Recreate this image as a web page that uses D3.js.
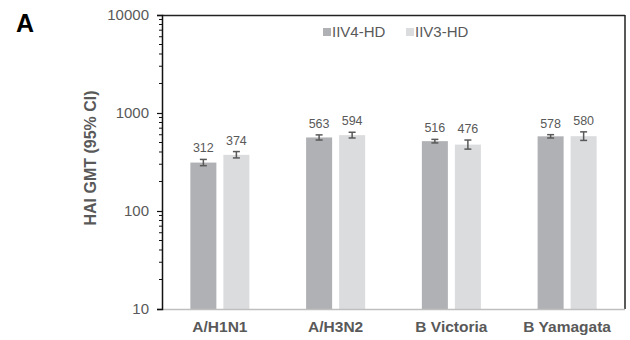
<!DOCTYPE html>
<html>
<head>
<meta charset="utf-8">
<script src="https://cdnjs.cloudflare.com/ajax/libs/d3/7.8.5/d3.min.js"></script>
<style>
  body { margin: 0; background: #fff; }
  svg { font-family: "Liberation Sans", Arial, sans-serif; }
</style>
</head>
<body>
<script>
// data
var strains = ["A/H1N1", "A/H3N2", "B Victoria", "B Yamagata"];
var series = ["IIV4-HD", "IIV3-HD"];
var gmtIIV4 = [312, 563, 516, 578];
var gmtIIV3 = [374, 594, 476, 580];
var lowIIV4 = [290, 530, 495, 556];
var highIIV4 = [336, 598, 538, 601];
var lowIIV3 = [348, 556, 428, 525];
var highIIV3 = [404, 636, 530, 642];
var yTicks = [10, 100, 1000, 10000];

var width = 630, height = 340;
var plotLeft = 162, plotRight = 625, plotTop = 15, plotBottom = 309;
var grey = "#595959";
var colors = ["#b0b1b4", "#dbdcde"];

var svg = d3.select("body").append("svg")
    .attr("width", width)
    .attr("height", height);

var x0 = d3.scaleBand()
    .domain(strains)
    .range([plotLeft, plotRight])
    .paddingInner(0.49)
    .paddingOuter(0.245);

var x1 = d3.scaleBand()
    .domain(series)
    .range([0, x0.bandwidth()])
    .paddingInner(0.212);

var y = d3.scaleLog()
    .domain([10, 10000])
    .range([plotBottom, plotTop]);

// rows for the bars
var rows = [];
strains.forEach(function(s, i) {
    rows.push({strain: s, key: series[0], v: gmtIIV4[i], lo: lowIIV4[i], hi: highIIV4[i]});
    rows.push({strain: s, key: series[1], v: gmtIIV3[i], lo: lowIIV3[i], hi: highIIV3[i]});
});

// frame: top and right dark, bottom light
svg.append("line")
    .attr("x1", plotLeft).attr("x2", plotRight)
    .attr("y1", plotTop + 0.5).attr("y2", plotTop + 0.5)
    .attr("stroke", "#222").attr("stroke-width", 1.5);
svg.append("line")
    .attr("x1", plotRight).attr("x2", plotRight)
    .attr("y1", plotTop).attr("y2", plotBottom)
    .attr("stroke", "#222").attr("stroke-width", 1.5);

// bars
svg.append("g").selectAll("rect")
    .data(rows)
    .enter()
    .append("rect")
    .attr("x", function(d) { return x0(d.strain) + x1(d.key); })
    .attr("y", function(d) { return y(d.v); })
    .attr("width", x1.bandwidth())
    .attr("height", function(d) { return plotBottom - y(d.v); })
    .attr("fill", function(d) { return colors[series.indexOf(d.key)]; });

// bottom baseline
svg.append("line")
    .attr("x1", plotLeft).attr("x2", plotRight)
    .attr("y1", plotBottom + 0.5).attr("y2", plotBottom + 0.5)
    .attr("stroke", "#bfbfbf").attr("stroke-width", 1.5);

// error bars
var err = svg.append("g")
    .attr("stroke", grey)
    .attr("stroke-width", 1.5);

rows.forEach(function(d) {
    var cx = x0(d.strain) + x1(d.key) + x1.bandwidth() / 2;
    err.append("line")
        .attr("x1", cx).attr("x2", cx)
        .attr("y1", y(d.lo)).attr("y2", y(d.hi));
    err.append("line")
        .attr("x1", cx - 3.5).attr("x2", cx + 3.5)
        .attr("y1", y(d.lo)).attr("y2", y(d.lo));
    err.append("line")
        .attr("x1", cx - 3.5).attr("x2", cx + 3.5)
        .attr("y1", y(d.hi)).attr("y2", y(d.hi));
});

// value labels
svg.append("g").selectAll("text")
    .data(rows)
    .enter()
    .append("text")
    .attr("x", function(d) { return x0(d.strain) + x1(d.key) + x1.bandwidth() / 2; })
    .attr("y", function(d) { return y(d.hi) - 7; })
    .attr("text-anchor", "middle")
    .attr("fill", grey)
    .style("font-size", "12.5px")
    .text(function(d) { return d.v; });

// y axis
var yAxis = d3.axisLeft(y)
    .tickValues(yTicks)
    .tickFormat(d3.format("d"))
    .tickSize(5)
    .tickPadding(8);

var gy = svg.append("g")
    .attr("transform", "translate(" + plotLeft + ",0)")
    .call(yAxis);
gy.select(".domain").attr("stroke", "#111").attr("stroke-width", 1.5);
gy.selectAll(".tick line").attr("stroke", "#111").attr("stroke-width", 1.2);
gy.selectAll(".tick text")
    .attr("fill", grey)
    .style("font-size", "15px")
    .style("font-family", "'Liberation Sans', Arial, sans-serif");

// minor log ticks
var minor = y.ticks().filter(function(t) { return yTicks.indexOf(t) < 0; });
gy.append("g").selectAll("line")
    .data(minor)
    .enter()
    .append("line")
    .attr("x1", -3).attr("x2", 0)
    .attr("y1", function(d) { return y(d); })
    .attr("y2", function(d) { return y(d); })
    .attr("stroke", "#111");

// x axis labels
var xAxis = d3.axisBottom(x0).tickSize(0).tickPadding(12);
var gx = svg.append("g")
    .attr("transform", "translate(0," + plotBottom + ")")
    .call(xAxis);
gx.select(".domain").remove();
gx.selectAll(".tick text")
    .attr("fill", grey)
    .style("font-size", "15.5px")
    .style("font-weight", "bold")
    .style("font-family", "'Liberation Sans', Arial, sans-serif");

// y title
svg.append("text")
    .attr("transform", "translate(96,158) rotate(-90)")
    .attr("text-anchor", "middle")
    .attr("fill", grey)
    .style("font-size", "16px")
    .style("font-weight", "bold")
    .text("HAI GMT (95% CI)");

// legend
var legendX = [323, 406];
var lg = svg.append("g");
series.forEach(function(s, i) {
    lg.append("rect")
        .attr("x", legendX[i]).attr("y", 28)
        .attr("width", 8).attr("height", 8)
        .attr("fill", colors[i]);
    lg.append("text")
        .attr("x", legendX[i] + 9).attr("y", 37)
        .attr("fill", grey)
        .style("font-size", "15px")
        .text(s);
});

// panel letter
svg.append("text")
    .attr("x", 16).attr("y", 32)
    .attr("fill", "#000")
    .style("font-size", "25px")
    .style("font-weight", "bold")
    .text("A");
</script>
</body>
</html>
